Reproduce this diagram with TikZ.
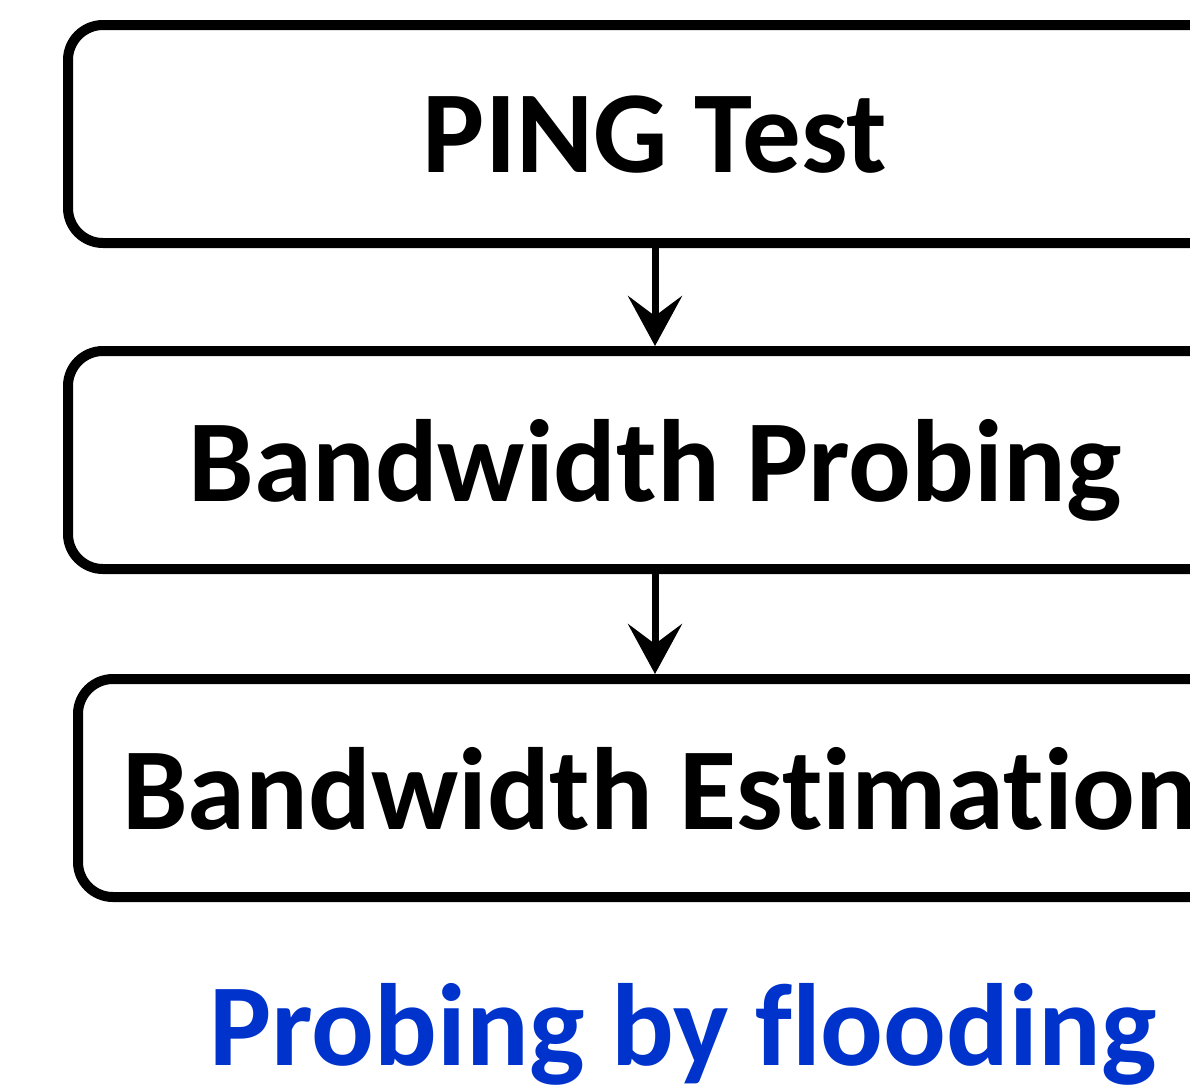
\documentclass[tikz,border=0pt]{standalone}
\usepackage{fontspec}
\setmainfont[Ligatures=NoCommon]{Carlito}
\usetikzlibrary{arrows.meta}
\definecolor{floodblue}{RGB}{0,51,204}
\tikzset{
  bigtext/.style={font=\fontsize{117}{117}\selectfont\bfseries, text depth=0pt},
  stagebox/.style={bigtext, draw, line width=10pt, rounded corners=35pt, minimum height=218pt, inner sep=0pt},
  stagearrow/.style={line width=7pt, -{Stealth[length=50pt, width=54pt, inset=20pt]}}
}
\begin{document}
\begin{tikzpicture}[x=1pt, y=-1pt]
\useasboundingbox (0,0) rectangle (1190,1090);
\clip (0,0) rectangle (1190,1090);
\node[stagebox, minimum width=1174pt] (ping) at (655,134){PING Test};
\node[stagebox, minimum width=1174pt] (probe) at (655,460){Bandwidth Probing};
\node[stagebox, minimum width=1164pt] (estim) at (660,788){Bandwidth Estimation};
\node[bigtext, text=floodblue] (flood) at (683,1024){Probing by flooding};
\draw[stagearrow](ping.south -| 655,0) -- (probe.north -| 655,0);
\draw[stagearrow](probe.south -| 655,0) -- (estim.north -| 655,0);
\end{tikzpicture}
\end{document}
